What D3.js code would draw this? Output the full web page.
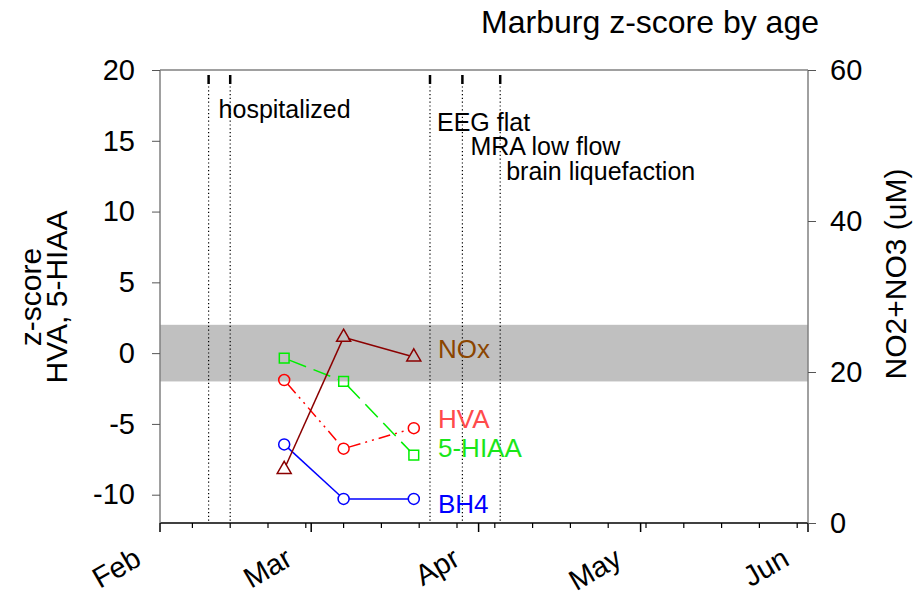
<!DOCTYPE html>
<html>
<head>
<meta charset="utf-8">
<script src="https://cdn.jsdelivr.net/npm/d3@7"></script>
<style>
  body { margin: 0; background: #fff; }
  text { font-family: "Liberation Sans", Arial, sans-serif; }
</style>
</head>
<body>
<svg id="chart" width="924" height="596"></svg>
<script>
// Sampling dates and measured values
const sampleDates = ["2010-02-24", "2010-03-07", "2010-03-20"];
const noxValues  = [7.1, 24.6, 22.0];      // NO2+NO3, uM (right axis)
const hvaValues  = [-1.9, -6.75, -5.3];    // z-score
const hiaaValues = [-0.35, -2.0, -7.2];    // z-score
const bh4Values  = [-6.45, -10.3, -10.3];  // z-score

// Clinical events
const eventDates  = ["2010-02-10", "2010-02-14", "2010-03-23", "2010-03-29", "2010-04-05"];
const eventLabels = ["hospitalized", "EEG flat", "MRA low flow", "brain liquefaction"];
const eventLabelDates = ["2010-02-10", "2010-03-23", "2010-03-29", "2010-04-05"];

// Axis ticks
const zTicks   = [-10, -5, 0, 5, 10, 15, 20];
const noxTicks = [0, 20, 40, 60];
const normalRange = [-2, 2];

const parse = d3.timeParse("%Y-%m-%d");
const svg = d3.select("#chart");
const pLeft = 160, pRight = 808, pTop = 70, pBottom = 523;
const FONT = "Liberation Sans, Arial, sans-serif";

const x = d3.scaleTime().domain([parse("2010-02-01"), parse("2010-06-01")]).range([pLeft, pRight]);
const yZ = d3.scaleLinear().domain([-12, 20]).range([pBottom, pTop]);
const yN = d3.scaleLinear().domain([0, 60]).range([pBottom, pTop]);

// Normal range band
svg.append("rect")
  .attr("x", pLeft).attr("width", pRight - pLeft)
  .attr("y", yZ(normalRange[1])).attr("height", yZ(normalRange[0]) - yZ(normalRange[1]))
  .attr("fill", "#c0c0c0");

// Top frame line
svg.append("line").attr("x1", pLeft).attr("x2", pRight).attr("y1", pTop).attr("y2", pTop)
  .attr("stroke", "#808080").attr("stroke-width", 1.5);

// Event markers: dotted verticals with a short bold tick on top
const ev = svg.append("g");
eventDates.forEach(d => {
  const xp = x(parse(d));
  ev.append("line").attr("x1", xp).attr("x2", xp).attr("y1", 75).attr("y2", pBottom)
    .attr("stroke", "#000").attr("stroke-width", 1.2).attr("stroke-dasharray", "1.2,2.6");
  ev.append("line").attr("x1", xp).attr("x2", xp).attr("y1", 75).attr("y2", 84)
    .attr("stroke", "#000").attr("stroke-width", 2.5);
});
const labelY = [118, 131, 155, 180];
const labelDx = [10, 7, 8, 6];
eventLabels.forEach((t, i) => {
  ev.append("text").attr("x", x(parse(eventLabelDates[i])) + labelDx[i]).attr("y", labelY[i])
    .attr("font-size", 25).attr("fill", "#000").text(t);
});

// Bottom axis: weekly minor ticks, monthly major ticks
const fmtMonth = d3.timeFormat("%b");
const gx = svg.append("g").attr("transform", `translate(0,${pBottom})`);
gx.append("line").attr("x1", pLeft).attr("x2", pRight).attr("stroke", "#000").attr("stroke-width", 1.5);
const weeks = d3.timeWeek.range(x.domain()[0], d3.timeDay.offset(x.domain()[1], 1));
gx.selectAll(".minor").data(weeks).join("line")
  .attr("x1", d => x(d)).attr("x2", d => x(d)).attr("y1", 0).attr("y2", 5)
  .attr("stroke", "#000").attr("stroke-width", 1.2);
const months = d3.timeMonth.range(x.domain()[0], d3.timeDay.offset(x.domain()[1], 1));
gx.selectAll(".major").data(months).join("line")
  .attr("x1", d => x(d)).attr("x2", d => x(d)).attr("y1", 0).attr("y2", 9)
  .attr("stroke", "#000").attr("stroke-width", 1.5);
gx.selectAll(".mlabel").data(months).join("text")
  .attr("transform", d => `translate(${x(d) - 17},${41}) rotate(-30)`)
  .attr("text-anchor", "end").attr("font-size", 29).attr("fill", "#000")
  .text(d => fmtMonth(d));

// Left and right value axes
const gl = svg.append("g").attr("transform", `translate(${pLeft},0)`);
gl.call(d3.axisLeft(yZ).tickValues(zTicks).tickSize(8).tickPadding(17).tickFormat(d => String(d)));
gl.select(".domain").attr("stroke", "#808080").attr("stroke-width", 1.5).attr("d", `M0,${pTop}V${pBottom}`);
gl.selectAll(".tick line").attr("stroke", "#555");
gl.selectAll(".tick text").attr("font-size", 29).attr("font-family", FONT).attr("fill", "#000");

const gr = svg.append("g").attr("transform", `translate(${pRight},0)`);
gr.call(d3.axisRight(yN).tickValues(noxTicks).tickSize(8).tickPadding(14).tickFormat(d => String(d)));
gr.select(".domain").attr("stroke", "#808080").attr("stroke-width", 1.5).attr("d", `M0,${pTop}V${pBottom}`);
gr.selectAll(".tick line").attr("stroke", "#555");
gr.selectAll(".tick text").attr("font-size", 29).attr("font-family", FONT).attr("fill", "#000");

// Axis titles and chart title
svg.append("text").attr("transform", "translate(41,297) rotate(-90)").attr("text-anchor", "middle")
  .attr("font-size", 30).text("z-score");
svg.append("text").attr("transform", "translate(67,297) rotate(-90)").attr("text-anchor", "middle")
  .attr("font-size", 30).text("HVA, 5-HIAA");
svg.append("text").attr("transform", "translate(906,274) rotate(-90)").attr("text-anchor", "middle")
  .attr("font-size", 30).text("NO2+NO3 (uM)");
svg.append("text").attr("x", 819).attr("y", 33).attr("text-anchor", "end")
  .attr("font-size", 32).text("Marburg z-score by age");

// Series: lines stop at the open marker outlines
function drawSeries(values, yScale, color, dash, shape, gap) {
  const pts = values.map((v, i) => [x(parse(sampleDates[i])), yScale(v)]);
  const g = svg.append("g");
  for (let i = 0; i < pts.length - 1; i++) {
    const [x1, y1] = pts[i], [x2, y2] = pts[i + 1];
    const len = Math.hypot(x2 - x1, y2 - y1), ux = (x2 - x1) / len, uy = (y2 - y1) / len;
    g.append("line")
      .attr("x1", x1 + ux * gap).attr("y1", y1 + uy * gap)
      .attr("x2", x2 - ux * gap).attr("y2", y2 - uy * gap)
      .attr("stroke", color).attr("stroke-width", 1.5).attr("stroke-dasharray", dash);
  }
  g.selectAll("path.m").data(pts).join("path")
    .attr("transform", d => `translate(${d[0]},${d[1]})`)
    .attr("d", d3.symbol().type(shape).size(shape === d3.symbolTriangle ? 85 : 95))
    .attr("fill", "none").attr("stroke", color).attr("stroke-width", 1.5);
}
drawSeries(bh4Values, yZ, "#0000ff", null, d3.symbolCircle, 5.5);
drawSeries(hvaValues, yZ, "#ff0000", "12,5,2,5,2,5", d3.symbolCircle, 5.5);
drawSeries(hiaaValues, yZ, "#00ee00", "18,8", d3.symbolSquare, 5.5);
drawSeries(noxValues, yN, "#8b0000", null, d3.symbolTriangle, 4.5);

// Series labels
const seriesLabels = [
  { text: "NOx", color: "#8b4500", y: 358 },
  { text: "HVA", color: "#ff4b4b", y: 428 },
  { text: "5-HIAA", color: "#19e619", y: 457 },
  { text: "BH4", color: "#0000ff", y: 513 }
];
svg.selectAll("text.series").data(seriesLabels).join("text")
  .attr("x", 438).attr("y", d => d.y).attr("font-size", 26).attr("fill", d => d.color).text(d => d.text);
</script>
</body>
</html>
